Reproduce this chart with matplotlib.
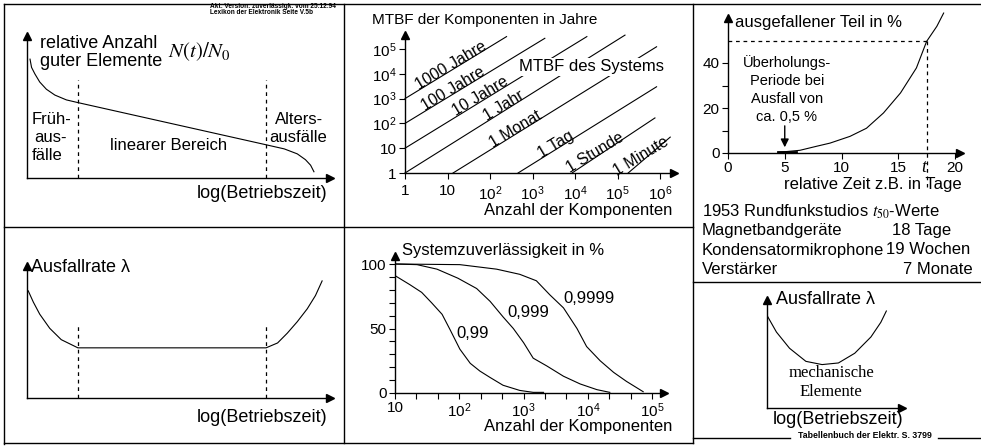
import numpy as np
import matplotlib
matplotlib.use("Agg")
import matplotlib.pyplot as plt
from matplotlib.lines import Line2D

plt.rcParams["font.family"] = ["Liberation Sans", "DejaVu Sans"]
plt.rcParams["mathtext.fontset"] = "custom"
plt.rcParams["mathtext.rm"] = "Liberation Sans"
plt.rcParams["mathtext.it"] = "Liberation Sans:italic"
plt.rcParams["mathtext.default"] = "regular"

W, H = 981, 447
FS = 12      # most labels
FS_TICK = 11

# --- panel 1: survivors N(t)/N0 over log(operating time) ---
surv_x = [0.010, 0.015, 0.026, 0.042, 0.064, 0.092, 0.130, 0.168,
          0.789, 0.849, 0.892, 0.919, 0.936, 0.947]
surv_y = [0.837, 0.779, 0.733, 0.676, 0.625, 0.584, 0.550, 0.531,
          0.234, 0.205, 0.170, 0.129, 0.090, 0.044]
phase_bounds = [0.168, 0.789]
phase_top = 0.69

# --- panel 4: failure rate (bathtub) ---
rate_x = [0.004, 0.021, 0.042, 0.075, 0.113, 0.168, 0.789, 0.827,
          0.859, 0.892, 0.925, 0.952, 0.974]
rate_y = [0.812, 0.726, 0.635, 0.528, 0.442, 0.380, 0.380, 0.417,
          0.491, 0.578, 0.676, 0.776, 0.887]
rate_dash_top = 0.556

# --- panel 2: MTBF of components vs number of components ---
mtbf_labels = ["1000 Jahre", "100 Jahre", "10 Jahre", "1 Jahr",
               "1 Monat", "1 Tag", "1 Stunde", "1 Minute"]
mtbf_n0 = [1, 1, 1, 1, 13.5, 457, 8500, 178000]
mtbf_m0 = [1000, 100, 10, 1, 1, 1, 1, 1]
mtbf_n1 = [245, 1950, 19000, 150000, 830000, 830000, 760000, 1740000]
mtbf_m1 = [316000, 270000, 316000, 363000, 123000, 3000, 166, 28]
mtbf_label_n = [13.5, 15, 69, 240, 457, 4000, 33000, 400000]
mtbf_xticks = [1, 10, 1e2, 1e3, 1e4, 1e5, 1e6]
mtbf_xlabels = ["1", "10", "$10^2$", "$10^3$", "$10^4$", "$10^5$", "$10^6$"]
mtbf_yticks = [1, 10, 1e2, 1e3, 1e4, 1e5]
mtbf_ylabels = ["1", "10", "$10^2$", "$10^3$", "$10^4$", "$10^5$"]

# --- panel 5: system reliability vs number of components ---
rel_n = {
    "0,99": [10, 17, 26, 37, 54, 72, 102, 148, 209, 302, 479, 871, 1410, 2040],
    "0,999": [10, 22, 45, 95, 186, 302, 479, 692, 1000, 1410, 2290, 4170,
              7590, 13800, 21900],
    "0,9999": [10, 102, 380, 871, 1580, 2570, 4170, 6760, 9550, 15500,
               25100, 39800, 72400],
}
rel_pct = {
    "0,99": [91, 84, 78, 70, 61, 49, 34, 23, 17, 12, 6, 2, 0.5, 0.5],
    "0,999": [100, 99.5, 96, 89, 81, 71, 59, 50, 39, 27, 21, 13, 7, 2.6, 0.5],
    "0,9999": [100, 99.5, 96, 92, 87, 76, 66, 50, 36, 25, 16, 9, 1],
}
rel_label_pos = {"0,99": (91, 42.5), "0,999": (550, 59), "0,9999": (4170, 70)}

# --- panel 3: failed fraction over time ---
fail_t = [4.43, 6.34, 7.81, 8.99, 10.75, 12.2, 13.7, 15.2, 16.6, 17.5, 18.4, 19.0]
fail_pct = [0.3, 1.2, 3.0, 4.4, 7.4, 11.0, 17.8, 26.7, 37.8, 49.6, 56.3, 62.2]
t50 = 17.5
overhaul_t = 5

# --- panel 6: mechanical failure rate ---
mech_x = [0.002, 0.070, 0.167, 0.288, 0.408, 0.529, 0.650, 0.770, 0.843, 0.884]
mech_y = [0.853, 0.703, 0.553, 0.432, 0.402, 0.417, 0.507, 0.658, 0.793, 0.898]

studio_rows = [("Magnetbandgeräte", "18 Tage"),
               ("Kondensatormikrophone", "19 Wochen"),
               ("Verstärker", "7 Monate")]
studio_val_x = [892, 886, 903]


fig = plt.figure(figsize=(W / 100, H / 100), dpi=100)


def fx(x):
    return x / W


def fy(y):
    return 1 - y / H


def hline(y, x0, x1, lw=1.0):
    fig.add_artist(Line2D([fx(x0), fx(x1)], [fy(y), fy(y)], lw=lw, color="k",
                          transform=fig.transFigure))


def vline(x, y0, y1, lw=1.0):
    fig.add_artist(Line2D([fx(x), fx(x)], [fy(y0), fy(y1)], lw=lw, color="k",
                          transform=fig.transFigure))


def text(x, y, s, **kw):
    kw.setdefault("fontsize", FS)
    kw.setdefault("va", "center")
    fig.text(fx(x), fy(y), s, **kw)


def panel(ox, oy, tx, ty):
    ax = fig.add_axes([fx(ox), fy(oy), (tx - ox) / W, (oy - ty) / H])
    ax.patch.set_alpha(0)
    for side in ("top", "right"):
        ax.spines[side].set_visible(False)
    for side in ("left", "bottom"):
        ax.spines[side].set_linewidth(1.0)
    ax.plot(1, 0, ">k", ms=6, transform=ax.transAxes, clip_on=False)
    ax.plot(0, 1, "^k", ms=6, transform=ax.transAxes, clip_on=False)
    ax.tick_params(labelsize=FS_TICK, length=4, width=0.8, direction="out", pad=2)
    return ax


# frame lines
hline(4, 4, 981)
vline(4, 4, 444)
hline(443, 4, 693)
hline(438, 693, 790)
hline(438, 938, 981)
vline(344, 4, 443)
vline(693, 4, 443)
hline(227, 4, 693)
hline(282, 693, 981)

# ---------- panel 1 ----------
ax1 = panel(27, 178, 330, 36)
ax1.plot(surv_x, surv_y, color="k", lw=0.8)
for b in phase_bounds:
    ax1.plot([b, b], [0, phase_top], color="k", lw=0.9, ls=(0, (3, 3)))
ax1.set_xlim(0, 1)
ax1.set_ylim(0, 1)
ax1.set_xticks([])
ax1.set_yticks([])
text(40, 43, "relative Anzahl", fontsize=13)
text(40, 62, "guter Elemente", fontsize=13)
text(168, 52, r"$\mathit{N(t)/N}_{\mathrm{0}}$", fontsize=15, math_fontfamily="stix")
text(32, 120, "Früh-")
text(34, 138, "aus-")
text(32, 156, "fälle")
text(110, 145, "linearer Bereich")
text(275, 120, "Alters-")
text(269, 138, "ausfälle")
text(327, 193, "log(Betriebszeit)", ha="right", fontsize=13)
text(210, 7, "Akt. Version: zuverlässigk. vom 25.12.94", fontsize=4.7, weight="bold")
text(210, 13, "Lexikon der Elektronik Seite V.5b", fontsize=4.7, weight="bold")

# ---------- panel 4 ----------
ax4 = panel(27, 398, 330, 266)
ax4.plot(rate_x, rate_y, color="k", lw=0.8)
for b in phase_bounds:
    ax4.plot([b, b], [0, rate_dash_top], color="k", lw=0.9, ls=(0, (3, 3)))
ax4.set_xlim(0, 1)
ax4.set_ylim(0, 1)
ax4.set_xticks([])
ax4.set_yticks([])
text(30, 268, r"Ausfallrate $\lambda$", fontsize=13, math_fontfamily="stix")
text(327, 417, "log(Betriebszeit)", ha="right", fontsize=13)

# ---------- panel 2 ----------
ax2 = panel(405, 173, 674, 35)
ax2.set_xscale("log")
ax2.set_yscale("log")
ax2.set_xlim(1, 10 ** ((674 - 405) / 42.5))
ax2.set_ylim(1, 10 ** ((173 - 35) / 24.8))
for n0, m0, n1, m1 in zip(mtbf_n0, mtbf_m0, mtbf_n1, mtbf_m1):
    ax2.plot([n0, n1], [m0, m1], color="k", lw=0.8, clip_on=False)
for lab, ln, n0, m0, n1, m1 in zip(mtbf_labels, mtbf_label_n, mtbf_n0, mtbf_m0,
                                   mtbf_n1, mtbf_m1):
    ly = 10 ** np.interp(np.log10(ln), [np.log10(n0), np.log10(n1)],
                         [np.log10(m0), np.log10(m1)])
    ax2.text(ln, ly, lab, fontsize=11.5, rotation=31, ha="center",
             va="baseline", rotation_mode="anchor")
ax2.set_xticks(mtbf_xticks, mtbf_xlabels)
ax2.set_yticks(mtbf_yticks, mtbf_ylabels)
ax2.minorticks_off()
ax2.tick_params(axis="x", pad=4)
text(519, 67, "MTBF des Systems", bbox=dict(fc="white", ec="none", pad=1))
text(372, 20, "MTBF der Komponenten in Jahre", fontsize=11)
text(672, 210, "Anzahl der Komponenten", ha="right")

# ---------- panel 5 ----------
ax5 = panel(395, 393, 664, 256)
ax5.set_xscale("log")
ax5.set_xlim(10, 10 ** (1 + (664 - 395) / 64.3))
ax5.set_ylim(0, (393 - 256) / 1.29)
for key in rel_n:
    ax5.plot(rel_n[key], rel_pct[key], color="k", lw=0.8)
    ax5.text(*rel_label_pos[key], key, fontsize=FS)
ax5.set_xticks([10, 1e2, 1e3, 1e4, 1e5], ["10", "$10^2$", "$10^3$", "$10^4$", "$10^5$"])
ax5.set_xticks(10 ** np.arange(1, 5.01, 1 / 3), minor=True)
ax5.set_yticks([0, 50, 100])
ax5.set_yticks(np.arange(0, 101, 10), minor=True)
ax5.tick_params(which="minor", length=4, width=0.8)
ax5.xaxis.set_minor_formatter(plt.NullFormatter())
text(402, 250, "Systemzuverlässigkeit in %")
text(672, 427, "Anzahl der Komponenten", ha="right")

# ---------- panel 3 ----------
ax3 = panel(728, 153, 960, 18)
ax3.set_xlim(0, (960 - 728) / 11.35)
ax3.set_ylim(0, (153 - 18) / 2.25)
ax3.plot(fail_t, fail_pct, color="k", lw=0.8, clip_on=False)
ax3.plot([0, t50], [50, 50], color="k", lw=0.9, ls=(0, (3, 3)))
ax3.plot([t50, t50], [50, -15], color="k", lw=0.9, ls=(0, (3, 3)), clip_on=False)
ax3.plot([4.4, 6.0], [0.3, 0.3], color="k", lw=2)
ax3.annotate("", xy=(overhaul_t, 1.3), xytext=(overhaul_t, 13.3),
             arrowprops=dict(arrowstyle="-|>", color="k", lw=1, mutation_scale=12))
ax3.set_xticks([0, 5, 10, 15, 20])
ax3.set_yticks([0, 20, 40])
ax3.set_yticks([10, 30], minor=True)
ax3.tick_params(which="minor", length=4, width=0.8)
text(735, 22, "ausgefallener Teil in %")
for i, s in enumerate(["Überholungs-", "Periode bei", "Ausfall von", "ca. 0,5 %"]):
    text(787, 63 + 18 * i, s, ha="center", fontsize=10.5)
text(921, 168, "t", family="Liberation Serif", style="italic", fontsize=13)
text(962, 185, "relative Zeit z.B. in Tage", ha="right")

text(702, 212, r"1953 Rundfunkstudios $\mathit{t}_{\mathrm{50}}$-Werte",
     math_fontfamily="stix")
for i, ((name, val), vx) in enumerate(zip(studio_rows, studio_val_x)):
    text(702, 231 + 19 * i, name)
    text(vx, 231 + 19 * i, val)

# ---------- panel 6 ----------
ax6 = panel(767, 408, 902, 300)
ax6.plot(mech_x, mech_y, color="k", lw=0.8)
ax6.set_xlim(0, 1)
ax6.set_ylim(0, 1)
ax6.set_xticks([])
ax6.set_yticks([])
text(775, 300, r"Ausfallrate $\lambda$", fontsize=13, math_fontfamily="stix")
text(831, 373, "mechanische", ha="center", family="Liberation Serif", fontsize=12)
text(831, 392, "Elemente", ha="center", family="Liberation Serif", fontsize=12)
text(838, 419, "log(Betriebszeit)", ha="center", fontsize=13)
text(865, 436, "Tabellenbuch der Elektr. S. 3799", fontsize=6.3, weight="bold",
     ha="center")

fig.savefig("out.png", dpi=100)
